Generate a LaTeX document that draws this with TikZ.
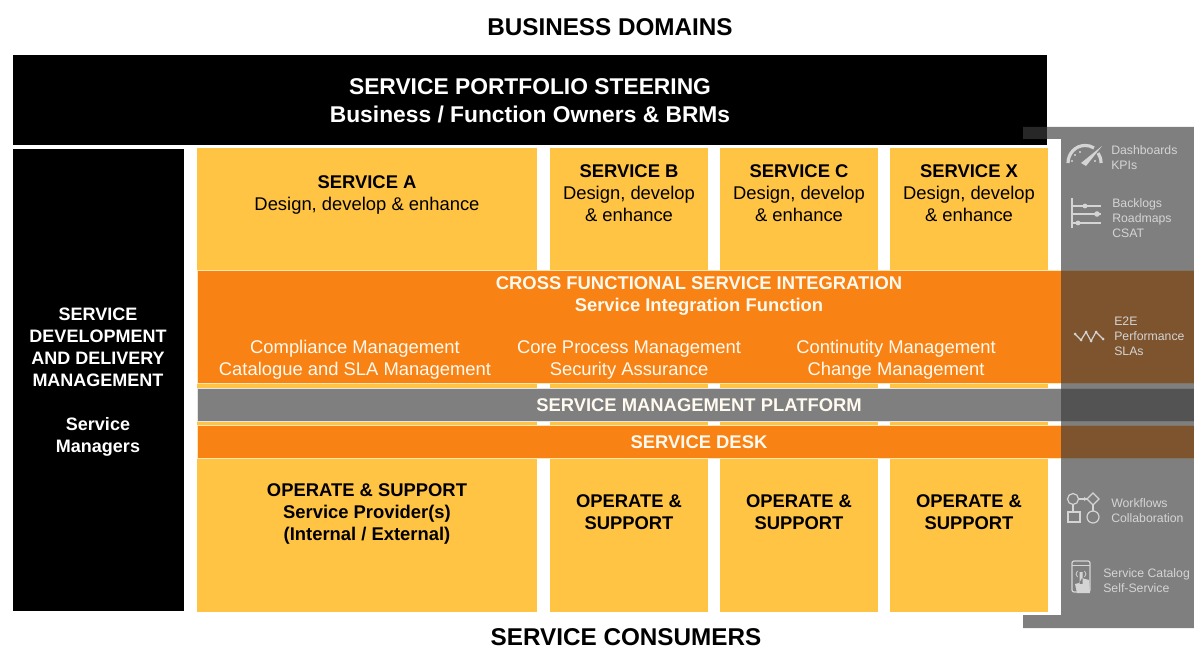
\documentclass[tikz,border=0pt]{standalone}
\usepackage{fontspec}
\setmainfont{Liberation Sans}
\definecolor{yel}{HTML}{FFC444}
\definecolor{org}{HTML}{F88214}
\definecolor{gry}{HTML}{7F7F7F}
\definecolor{pan}{RGB}{61,61,61}
\definecolor{ico}{HTML}{D4D4D4}
\begin{document}
\begin{tikzpicture}[x=0.75pt,y=-0.75pt,
  blk/.style={fill=black},
  col/.style={fill=yel},
  band/.style={fill=org,draw=white!60!yel,line width=0.6pt},
  grband/.style={fill=gry,draw=white!80!gry,line width=0.6pt},
  panel/.style={fill=pan,fill opacity=0.655},
  big/.style={font=\fontsize{18.2}{22}\selectfont\bfseries,text=black,inner sep=0pt},
  head/.style={font=\fontsize{17.1}{20.6}\selectfont\bfseries,inner sep=0pt,align=center},
  colt/.style={font=\fontsize{13.8}{16.5}\selectfont,inner sep=0pt,align=center,text=black},
  bandt/.style={font=\fontsize{13.8}{16.5}\selectfont,inner sep=0pt,align=center,text=white!92!yel},
  side/.style={font=\fontsize{9.2}{11.2}\selectfont,inner sep=0pt,align=left,anchor=north west,text=ico},
  icl/.style={draw=ico,line width=0.9pt}]
\useasboundingbox (0,0) rectangle (1194,649);
\fill[white] (0,0) rectangle (1194,649);
% black blocks
\fill[blk] (13,55) rectangle (1047,145);
\fill[blk] (13,149) rectangle (184,611);
% service columns
\fill[col] (197,148) rectangle (537,612);
\fill[col] (550,148) rectangle (708,612);
\fill[col] (720,148) rectangle (878,612);
\fill[col] (890,148) rectangle (1048,612);
% bands
\path[band] (197,270.5) rectangle (1194,383.5);
\path[grband] (197,388) rectangle (1194,421);
\path[band] (197,425.5) rectangle (1194,458);
% translucent panel
\path[panel] (1023,127) -- (1194,127) -- (1194,628) -- (1023,628) -- (1023,615) -- (1061,615) -- (1061,139) -- (1023,139) -- cycle;
% headings
\node[big] (domains) at (610,27) {BUSINESS DOMAINS};
\node[big] (consumers) at (626,637) {SERVICE CONSUMERS};
\node[head,text=white] (steering) at (530,101) {SERVICE PORTFOLIO STEERING\\Business / Function Owners \& BRMs};
\node[inner sep=0pt,align=center,text=white,font=\fontsize{13.5}{16.5}\selectfont\bfseries] (sddm) at (98,382) {SERVICE\\DEVELOPMENT\\AND DELIVERY\\MANAGEMENT\\[16.5pt]Service\\Managers};
% design columns
\node[colt,anchor=north] (sa) at (367,175.5) {\textbf{SERVICE A}\\Design, develop \& enhance};
\node[colt,anchor=north] (sb) at (629,164) {\textbf{SERVICE B}\\Design, develop\\\& enhance};
\node[colt,anchor=north] (sc) at (799,164) {\textbf{SERVICE C}\\Design, develop\\\& enhance};
\node[colt,anchor=north] (sx) at (969,164) {\textbf{SERVICE X}\\Design, develop\\\& enhance};
% band text
\node[bandt,anchor=north] (cross) at (699,276.5) {\textbf{CROSS FUNCTIONAL SERVICE INTEGRATION}\\\textbf{Service Integration Function}};
\node[bandt,anchor=north] (comp) at (355,339.5) {Compliance Management\\Catalogue and SLA Management};
\node[bandt,anchor=north] (core) at (629,340.5) {Core Process Management\\Security Assurance};
\node[bandt,anchor=north] (cont) at (896,340) {Continutity Management\\Change Management};
\node[bandt] (smp) at (699,405) {\textbf{SERVICE MANAGEMENT PLATFORM}};
\node[bandt] (desk) at (699,442) {\textbf{SERVICE DESK}};
% operate columns
\node[colt,anchor=north] (oa) at (367,483.5) {\textbf{OPERATE \& SUPPORT}\\\textbf{Service Provider(s)}\\\textbf{(Internal / External)}};
\node[colt,anchor=north] (ob) at (629,494) {\textbf{OPERATE \&}\\\textbf{SUPPORT}};
\node[colt,anchor=north] (oc) at (799,494) {\textbf{OPERATE \&}\\\textbf{SUPPORT}};
\node[colt,anchor=north] (ox) at (969,494) {\textbf{OPERATE \&}\\\textbf{SUPPORT}};
% side labels
\node[side] (s1) at (1111,145.5) {Dashboards\\KPIs};
\node[side] (s2) at (1112,198) {Backlogs\\Roadmaps\\CSAT};
\node[side] (s3) at (1114,317) {E2E\\Performance\\SLAs};
\node[side] (s4) at (1111,498) {Workflows\\Collaboration};
\node[side] (s5) at (1103,568) {Service Catalog\\Self-Service};
% gauge icon
\draw[ico,line width=2.4pt] (1068,163) .. controls (1068,154) and (1075,145.5) .. (1085,145.5) .. controls (1088,145.5) and (1091,146) .. (1094,148);
\draw[ico,line width=2.4pt] (1098,153) .. controls (1100,156) and (1101,159) .. (1101,163);
\fill[ico] (1081,163) -- (1102,146) -- (1086,166) -- cycle;
\fill[ico] (1075,155) circle[radius=1.2] (1080,152) circle[radius=1.2] (1072,161) circle[radius=1.2] (1095,161) circle[radius=1.2];
% sliders icon
\draw[icl,line width=1.3pt] (1072,198) -- (1072,228);
\draw[icl] (1072,206) -- (1101,206);
\draw[icl] (1072,214) -- (1101,214);
\draw[icl] (1072,223) -- (1101,223);
\fill[ico] (1085,206) circle[radius=2.4] (1097,214) circle[radius=2.8] (1078,223) circle[radius=2.4];
% performance icon
\draw[icl] (1075,334) -- (1081,340) -- (1086,332) -- (1091,341) -- (1096,332) -- (1103,339);
\fill[ico] (1075,334) circle[radius=1.5] (1081,340) circle[radius=1.5] (1086,332) circle[radius=1.5] (1091,341) circle[radius=1.5] (1096,332) circle[radius=1.5] (1103,339) circle[radius=1.5];
% workflow icon
\draw[icl] (1073,499) circle[radius=5.5];
\draw[icl] (1093,493) -- (1099,499) -- (1093,505) -- (1087,499) -- cycle;
\draw[icl] (1068,512) rectangle (1080,522);
\draw[icl] (1093,517) circle[radius=6];
\draw[icl] (1078.5,499) -- (1087,499);
\draw[icl] (1073,504.5) -- (1073,512);
\draw[icl] (1093,505) -- (1093,511);
\fill[ico] (1087,499) -- (1084,497) -- (1084,501) -- cycle;
% phone icon
\draw[icl,rounded corners=1.5pt] (1072,561) rectangle (1090,592);
\draw[icl,line width=0.6pt] (1072,565) -- (1090,565);
\draw[icl,line width=0.6pt] (1077.5,571) .. controls (1075.5,573) and (1075.5,575) .. (1077.5,577);
\draw[icl,line width=0.6pt] (1084.5,571) .. controls (1086.5,573) and (1086.5,575) .. (1084.5,577);
\fill[ico] (1079.5,572) rectangle (1082.5,584) (1082,578) -- (1089,580) -- (1090,593) -- (1077,593) -- (1075,584) -- (1079,583) -- cycle;
\end{tikzpicture}
\end{document}
